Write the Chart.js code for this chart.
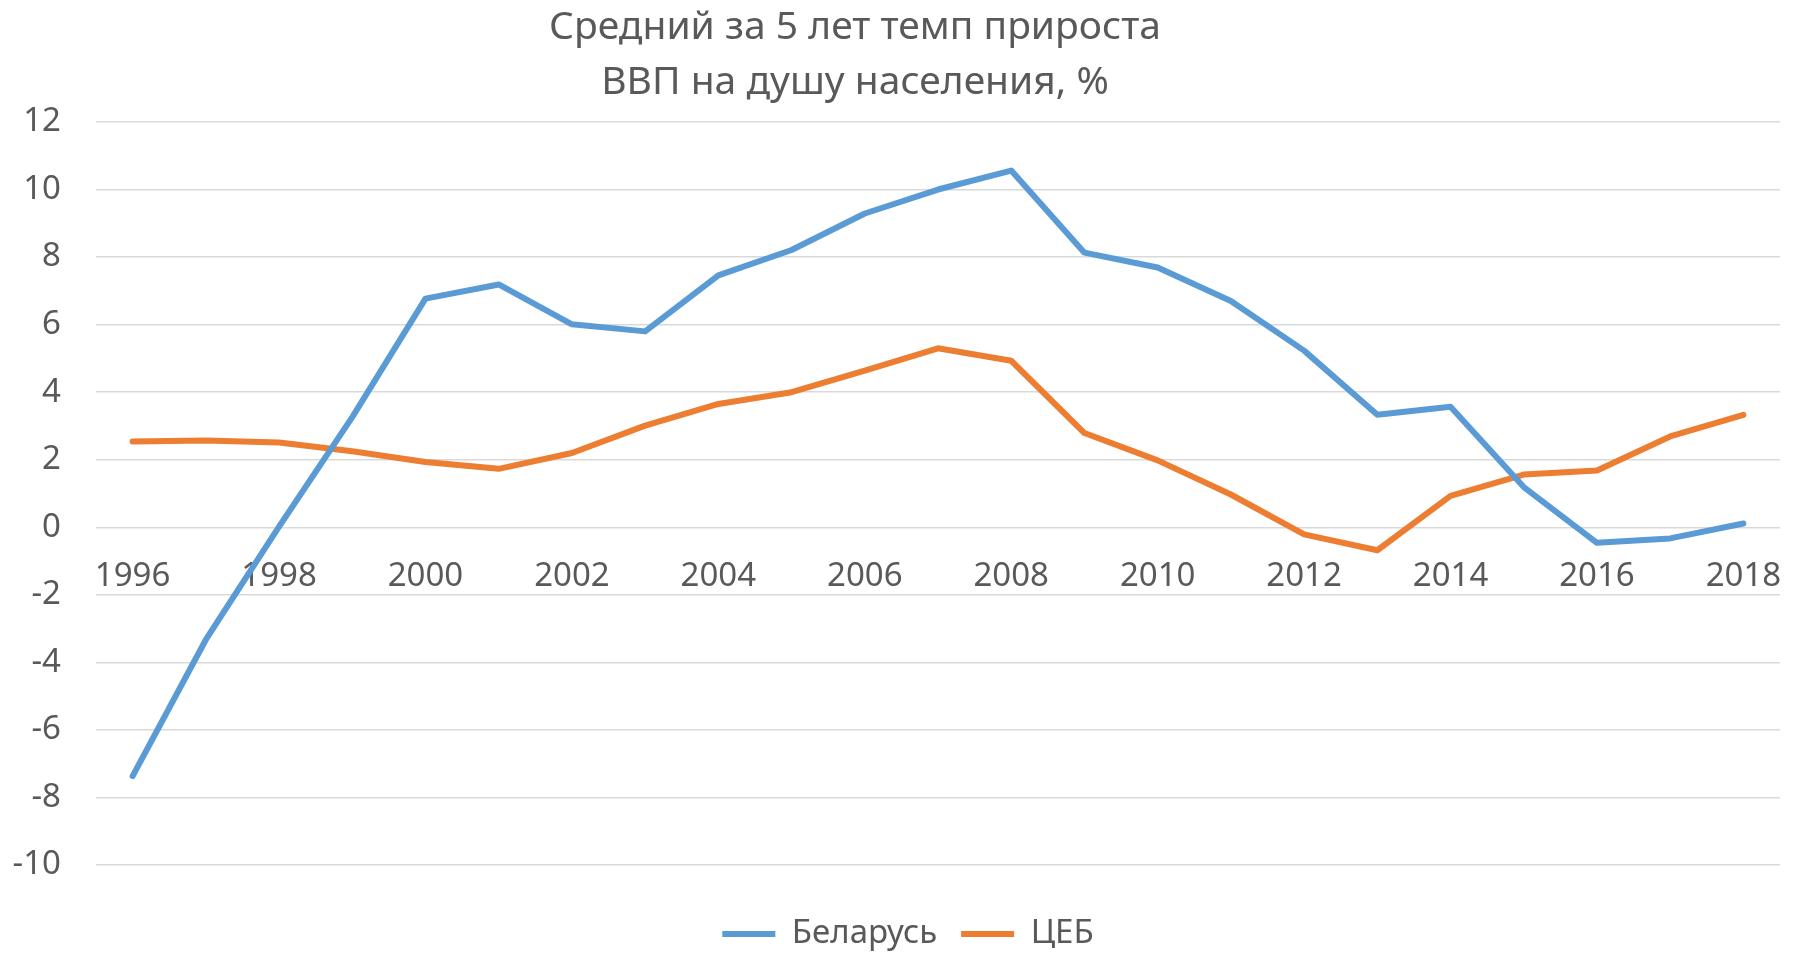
<!DOCTYPE html>
<html>
<head>
<meta charset="utf-8">
<script src="https://cdn.jsdelivr.net/npm/chart.js@4"></script>
<style>
html,body{margin:0;padding:0;background:#fff;}
canvas{display:block;}
</style>
</head>
<body>
<canvas id="c" width="1800" height="953"></canvas>
<script>
const years = ['1996','1997','1998','1999','2000','2001','2002','2003','2004','2005','2006','2007','2008','2009','2010','2011','2012','2013','2014','2015','2016','2017','2018'];
const belarus = [-7.37,-3.33,0.02,3.26,6.77,7.19,6.01,5.80,7.46,8.21,9.29,10.00,10.56,8.13,7.69,6.70,5.23,3.33,3.57,1.19,-0.46,-0.33,0.11];
const ceb = [2.54,2.57,2.51,2.25,1.93,1.73,2.20,3.01,3.65,4.00,4.64,5.30,4.93,2.79,1.98,0.97,-0.21,-0.68,0.93,1.56,1.68,2.69,3.33];
const titleLines = ['Средний за 5 лет темп прироста','ВВП на душу населения, %'];
const seriesNames = ['Беларусь','ЦЕБ'];
const colors = ['#5B9BD5','#ED7D31'];
const textColor = '#595959';
const FONT = "'Noto Sans', 'DejaVu Sans', sans-serif";

const layoutTweaks = {
  id: 'layoutTweaks',
  afterLayout(chart) {
    const t = chart.titleBlock;
    if (t) { t.left = 0; t.right = 1710; }
    const lg = chart.legend;
    if (lg) {
      const target = 934;
      const curCenter = lg.top + lg.options.labels.padding + lg.options.labels.font.size / 2;
      const shift = target - curCenter;
      lg.top += shift; lg.bottom += shift;
      lg.left += 12; lg.right += 12;
    }
  }
};

new Chart(document.getElementById('c'), {
  type: 'line',
  data: {
    labels: years,
    datasets: [
      { label: seriesNames[0], data: belarus, borderColor: colors[0], backgroundColor: colors[0] },
      { label: seriesNames[1], data: ceb, borderColor: colors[1], backgroundColor: colors[1] }
    ]
  },
  options: {
    responsive: false,
    devicePixelRatio: 1,
    animation: false,
    layout: { padding: { left: 12, right: 20, top: 0, bottom: 21 } },
    elements: {
      line: { borderWidth: 6, tension: 0, borderCapStyle: 'round', borderJoinStyle: 'round' },
      point: { radius: 0, hoverRadius: 0 }
    },
    scales: {
      x: {
        position: { y: 0 },
        offset: true,
        grid: { display: false, drawTicks: false },
        border: { display: false },
        afterFit: function(s) { s.paddingLeft = 0; s.paddingRight = 0; },
        ticks: {
          autoSkip: false,
          maxRotation: 0,
          padding: 30,
          color: textColor,
          font: { family: FONT, size: 33 },
          callback: function(v, i) { return i % 2 === 0 ? years[i] : ''; }
        }
      },
      y: {
        min: -10, max: 12,
        grid: { color: '#D9D9D9', lineWidth: 1.5, drawTicks: false },
        border: { display: false },
        afterFit: function(s) { s.width = 84; },
        ticks: {
          stepSize: 2,
          padding: 35,
          color: textColor,
          font: { family: FONT, size: 33 }
        }
      }
    },
    plugins: {
      tooltip: { enabled: false },
      title: {
        display: true,
        text: titleLines,
        color: textColor,
        font: { family: FONT, size: 39, weight: 'normal', lineHeight: 1.41 },
        padding: { top: 0, bottom: 12 }
      },
      legend: {
        position: 'bottom',
        labels: {
          color: textColor,
          font: { family: FONT, size: 33 },
          boxWidth: 53,
          boxHeight: 6,
          padding: 24,
          generateLabels: function(chart) {
            return chart.data.datasets.map(function(ds, i) {
              return { text: ds.label, fillStyle: colors[i], strokeStyle: colors[i], lineWidth: 0, datasetIndex: i, fontColor: textColor };
            });
          }
        }
      }
    }
  },
  plugins: [layoutTweaks]
});
</script>
</body>
</html>
